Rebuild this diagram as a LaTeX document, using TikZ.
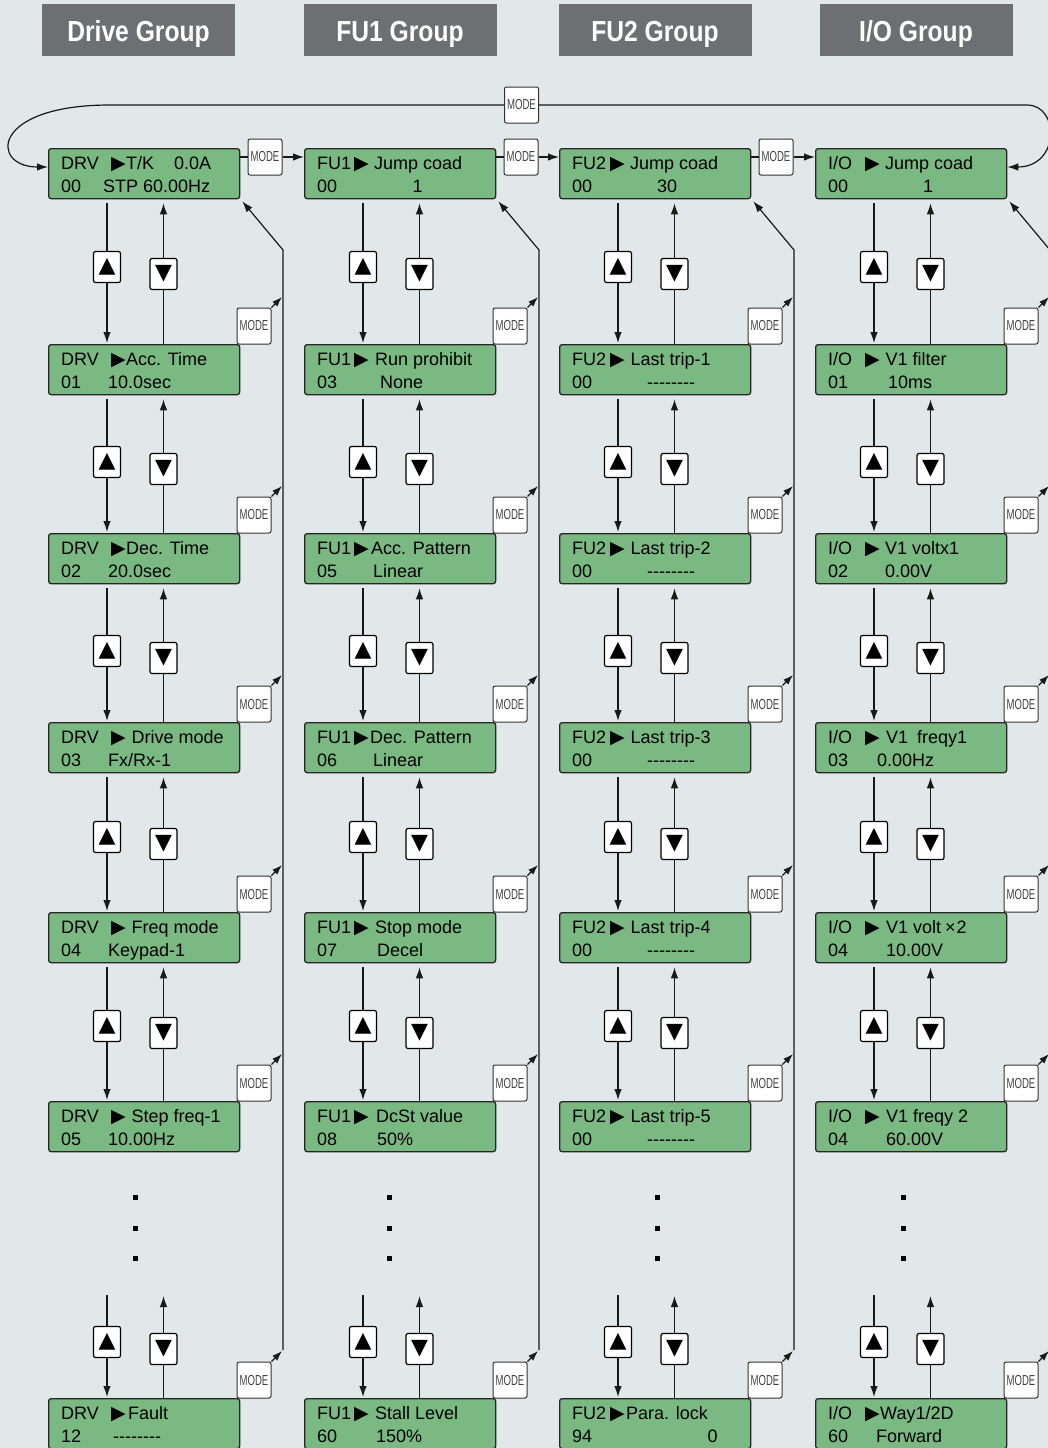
\documentclass[tikz,border=0pt]{standalone}
\usepackage{fontspec}
\setmainfont{Liberation Sans}
\newfontfamily\lcdf{Liberation Sans}
\newfontfamily\hdrf[FakeStretch=0.85]{Liberation Sans}
\newfontfamily\modef[FakeStretch=0.66]{Liberation Sans}
\newfontfamily\symf{DejaVu Sans}
\usetikzlibrary{arrows.meta}
\definecolor{bgc}{HTML}{E2E7EA}
\definecolor{lcdg}{HTML}{7AB982}
\definecolor{hdrg}{HTML}{6E6F73}
\newcommand\lcdfont{\lcdf\fontsize{18}{18}\selectfont}
\newcommand\trifont{\symf\fontsize{19}{19}\selectfont}
\newcommand\btnfont{\symf\fontsize{22}{22}\selectfont}
\newcommand\modefont{\modef\fontsize{14.5}{14.5}\selectfont}
\newcommand\hdrfont{\hdrf\bfseries\fontsize{29}{29}\selectfont}
\newcommand\dashes{-\kern0pt-\kern0pt-\kern0pt-\kern0pt-\kern0pt-\kern0pt-\kern0pt-}
\tikzset{
 lcdbox/.style={draw=black!85, line width=1.3pt, fill=lcdg, rounded corners=2.5pt, minimum width=191pt, minimum height=50pt, anchor=north west, inner sep=0pt},
 lcdt/.style={anchor=base west, inner sep=0pt, font=\lcdfont},
 tri/.style={anchor=base west, inner sep=0pt, font=\trifont},
 btn/.style={draw=black, line width=1.2pt, fill=white, rounded corners=2pt, minimum width=27pt, minimum height=31pt, inner sep=0pt, font=\btnfont},
 modebox/.style={draw=black!80, line width=1pt, fill=white, rounded corners=2pt, minimum width=34pt, minimum height=36pt, inner sep=0pt, font=\modefont, text=black!75},
 hdr/.style={fill=hdrg, minimum width=193pt, minimum height=52pt, inner sep=0pt},
 hdrt/.style={anchor=base, inner sep=0pt, text=white, font=\hdrfont},
 ln/.style={line width=1.2pt, draw=black!90},
 arr/.style={ln, -{Latex[length=11pt,width=7.5pt]}},
 sarr/.style={ln, -{Latex[length=10pt,width=7pt]}},
 dotsq/.style={fill=black, minimum size=5pt, inner sep=0pt}
}
\newcommand\lcdval[2]{\node[lcdt] at (#1,44.5) {#2};}
\newcommand\lcd[9]{%
 \begin{scope}[shift={(#2,#3)}]
 \node[lcdbox] (#1) at (0,0) {};
 \node[lcdt] at (13,21.5) {#4};
 \node[tri] at (#5-1,21.5) {\symbol{"25B6}};
 \node[lcdt] at (#6,21.5) {#7};
 \node[lcdt] at (13,44.5) {#8};
 \lcdval#9
 \end{scope}}
\begin{document}
\begin{tikzpicture}[x=1pt,y=-1pt]
\useasboundingbox (0,0) rectangle (1048,1448);
\fill[bgc] (0,0) rectangle (1048,1448);
\clip (0,0) rectangle (1048,1448);
% headers
\node[hdr] (H1) at (138.5,30) {};
\node[hdr] (H2) at (400,30) {};
\node[hdr] (H3) at (655,30) {};
\node[hdr] (H4) at (916,30) {};
\node[hdrt] at (138.5,41) {Drive Group};
\node[hdrt] at (400,41) {FU1 Group};
\node[hdrt] at (655,41) {FU2 Group};
\node[hdrt] at (916,41) {I/O Group};
% boxes
\lcd{B-1-0}{48}{148}{DRV}{64}{78}{T/K\hspace{20pt}0.0A}{00}{{55}{STP 60.00Hz}}
\lcd{B-1-1}{48}{344}{DRV}{64}{78}{Acc. Time}{01}{{60}{10.0sec}}
\lcd{B-1-2}{48}{533}{DRV}{64}{78}{Dec. Time}{02}{{60}{20.0sec}}
\lcd{B-1-3}{48}{722}{DRV}{64}{83.5}{Drive mode}{03}{{60}{Fx/Rx-1}}
\lcd{B-1-4}{48}{912}{DRV}{64}{83.5}{Freq mode}{04}{{60}{Keypad-1}}
\lcd{B-1-5}{48}{1101}{DRV}{64}{83.5}{Step freq-1}{05}{{60}{10.00Hz}}
\lcd{B-1-6}{48}{1398}{DRV}{64}{80}{Fault}{12}{{65}{\dashes}}
\lcd{B-2-0}{304}{148}{FU1}{51}{70}{Jump coad}{00}{{108.5}{1}}
\lcd{B-2-1}{304}{344}{FU1}{51}{71}{Run prohibit}{03}{{76}{None}}
\lcd{B-2-2}{304}{533}{FU1}{51}{67}{Acc. Pattern}{05}{{69}{Linear}}
\lcd{B-2-3}{304}{722}{FU1}{51}{66}{Dec. Pattern}{06}{{69}{Linear}}
\lcd{B-2-4}{304}{912}{FU1}{51}{71}{Stop mode}{07}{{73}{Decel}}
\lcd{B-2-5}{304}{1101}{FU1}{51}{72}{DcSt value}{08}{{73}{50\%}}
\lcd{B-2-6}{304}{1398}{FU1}{51}{71}{Stall Level}{60}{{72}{150\%}}
\lcd{B-3-0}{559}{148}{FU2}{52}{71}{Jump coad}{00}{{98}{30}}
\lcd{B-3-1}{559}{344}{FU2}{52}{71.5}{Last trip-1}{00}{{88}{\dashes}}
\lcd{B-3-2}{559}{533}{FU2}{52}{71.5}{Last trip-2}{00}{{88}{\dashes}}
\lcd{B-3-3}{559}{722}{FU2}{52}{71.5}{Last trip-3}{00}{{88}{\dashes}}
\lcd{B-3-4}{559}{912}{FU2}{52}{71.5}{Last trip-4}{00}{{88}{\dashes}}
\lcd{B-3-5}{559}{1101}{FU2}{52}{71.5}{Last trip-5}{00}{{88}{\dashes}}
\lcd{B-3-6}{559}{1398}{FU2}{52}{67}{Para. lock}{94}{{148.5}{0}}
\lcd{B-4-0}{815}{148}{I/O}{51}{70}{Jump coad}{00}{{108}{1}}
\lcd{B-4-1}{815}{344}{I/O}{51}{70.5}{V1 filter}{01}{{73}{10ms}}
\lcd{B-4-2}{815}{533}{I/O}{51}{70}{V1 voltx1}{02}{{70}{0.00V}}
\lcd{B-4-3}{815}{722}{I/O}{51}{71}{V1\hspace{9pt}freqy1}{03}{{62}{0.00Hz}}
\lcd{B-4-4}{815}{912}{I/O}{51}{71}{V1 volt\kern4pt×\kern1pt2}{04}{{71}{10.00V}}
\lcd{B-4-5}{815}{1101}{I/O}{51}{71}{V1 freqy 2}{04}{{71}{60.00V}}
\lcd{B-4-6}{815}{1398}{I/O}{51}{65}{Way1/2D}{60}{{61}{Forward}}
% vertical structure per column
\foreach \c/\L in {1/48,2/304,3/559,4/815}{
 % up/down connectors rows 0..5
 \foreach \r/\U in {0/267,1/462,2/651,3/837,4/1026}{
  \pgfmathtruncatemacro\n{\r+1}
  \draw[arr] ([xshift=59pt,yshift=-4pt]B-\c-\r.south west) -- ([xshift=59pt,yshift=1pt]B-\c-\n.north west);
  \draw[arr] ([xshift=115.5pt]B-\c-\n.north west) -- ([xshift=115.5pt,yshift=-4pt]B-\c-\r.south west);
  \node[btn] (U-\c-\r) at (\L+59,\U) {\symbol{"25B2}};
  \node[btn] (D-\c-\r) at (\L+115.5,\U+7) {\symbol{"25BC}};
 }
 % last segment
 \coordinate (LT-\c) at (\L+59,1295);
 \coordinate (RT-\c) at (\L+115.5,1296);
 \draw[arr] (LT-\c) -- ([xshift=59pt,yshift=1pt]B-\c-6.north west);
 \draw[arr] ([xshift=115.5pt]B-\c-6.north west) -- (RT-\c);
 \node[btn] (U-\c-5) at (\L+59,1342) {\symbol{"25B2}};
 \node[btn] (D-\c-5) at (\L+115.5,1349) {\symbol{"25BC}};
 % MODE return line
 \coordinate (VB-\c) at (\L+235,1350);
 \coordinate (VT-\c) at (\L+235,250);
 \draw[arr] (VB-\c) -- (VT-\c) -- ([xshift=2pt,yshift=-2pt]B-\c-0.south east);
 \foreach \r/\T in {1/344,2/533,3/722,4/912,5/1101,6/1398}{
  \node[modebox] (M-\c-\r) at (\L+206,\T-18) {MODE};
  \coordinate (MT-\c-\r) at (\L+234,\T-47);
  \draw[sarr] (M-\c-\r.north east) -- (MT-\c-\r);
 }
}
% dots
\foreach \c/\X in {1/135,2/389,3/657,4/903}{
 \node[dotsq] (dA-\c) at (\X,1197) {};
 \node[dotsq] (dB-\c) at (\X,1228) {};
 \node[dotsq] (dC-\c) at (\X,1258) {};
}
% horizontal MODE links
\foreach \c/\L in {1/48,2/304,3/559}{
 \pgfmathtruncatemacro\n{\c+1}
 \node[modebox] (HM-\c) at (\L+217,157) {MODE};
 \draw[ln] ([yshift=-9pt]B-\c-0.north east) -- (HM-\c.west);
 \draw[arr] (HM-\c.east) -- ([yshift=-9pt]B-\n-0.north west);
}
% top loop
\node[modebox] (TM) at (521.5,105) {MODE};
\coordinate (TLa) at (110,105);
\coordinate (TRa) at (1027,105);
\draw[arr] (TM.west) -- (TLa) .. controls (-10,105) and (-10,167) .. ([yshift=-19pt]B-1-0.north west);
\draw[arr] (TM.east) -- (TRa) .. controls (1060,105) and (1060,167) .. ([yshift=-19pt]B-4-0.north east);
\end{tikzpicture}
\end{document}
